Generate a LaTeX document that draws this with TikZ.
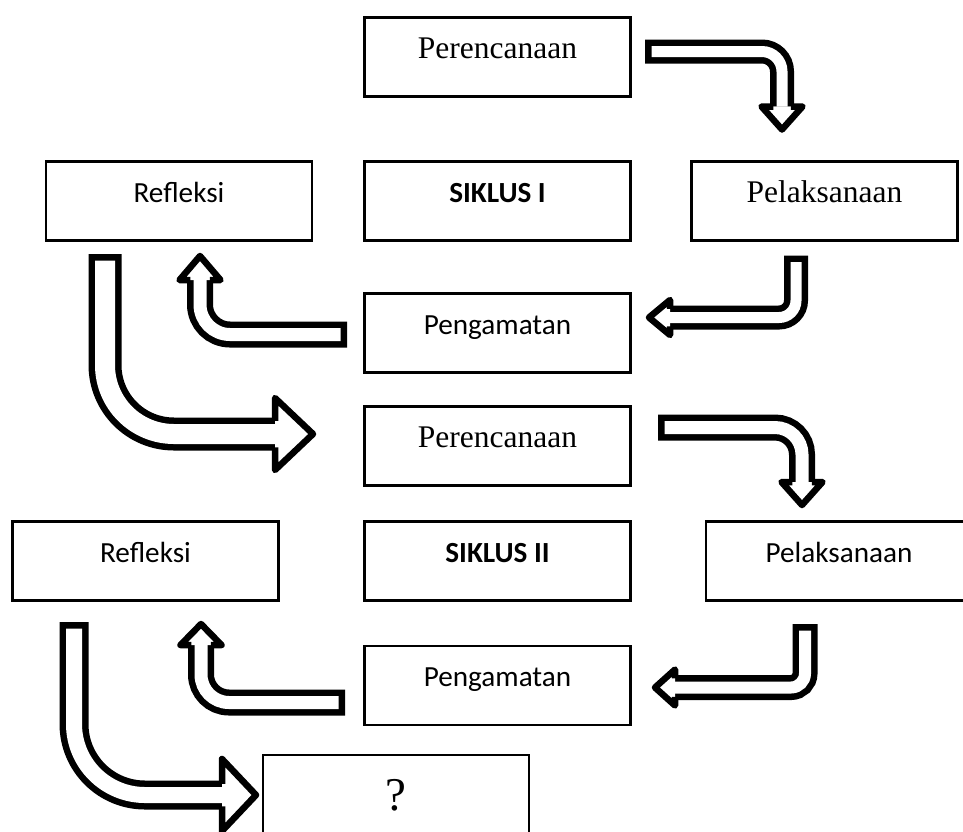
\documentclass[tikz,border=0pt]{standalone}
\usepackage{fontspec}
\setmainfont{Liberation Serif}
\newfontfamily\calibri{Carlito}
% #1 tail, #2 -| or |-, #3 head base, #4 direction,
% #5 shaft width, #6 bend radius, #7 half head, #8 head length
\newcommand\BentArrow[8]{%
    \draw[line width=#5pt+13pt, rounded corners=#6pt] #1 #2 #3;
    \draw[line width=#5pt, white, rounded corners=#6pt, shorten <=6.5pt] #1 #2 #3;
    \begin{scope}[shift={#3}, rotate=#4]
        \fill[white] (0,-#7) -- (#8,0) -- (0,#7) -- cycle;
        \draw[line width=6.5pt, line join=round] (0,-#5/2-3.25) -- (0,-#7) -- (#8,0) -- (0,#7) -- (0,#5/2+3.25);
    \end{scope}
}

\begin{document}
\begin{tikzpicture}[x=1pt, y=-1pt,
    box/.style={draw, line width=2.4pt, minimum width=266pt, minimum height=79pt,
        outer sep=0pt, text height=21pt, text depth=19pt},
    serif/.style={font=\fontsize{31.5}{36}\selectfont},
    sans/.style={font=\calibri\fontsize{29.2}{34}\selectfont}]
    \useasboundingbox[fill=white] (0,0) rectangle (963,831);

    % first cycle
    \node[box, serif] (Plan1) at (497.5,57) {Perencanaan};
    \node[box, sans] (Reflect1) at (179,201) {Refleksi};
    \node[box, sans] (Cycle1) at (497.5,201) {\bfseries SIKLUS I};
    \node[box, serif] (Act1) at (824.5,201) {Pelaksanaan};
    \node[box, sans] (Observe1) at (497.5,333) {Pengamatan};

    % second cycle
    \node[box, serif] (Plan2) at (497.5,446) {Perencanaan};
    \node[box, sans] (Reflect2) at (145.5,561) {Refleksi};
    \node[box, sans] (Cycle2) at (497.5,561) {\bfseries SIKLUS II};
    \node[box, sans] (Act2) at (839,561) {Pelaksanaan};
    \node[box, sans] (Observe2) at (497.5,685.5) {Pengamatan};
    \node[box, serif, font=\fontsize{47}{52}\selectfont, text height=34pt, text depth=3pt]
        (Next) at (396,794.5) {?};

    \coordinate (PlanOut1) at ([xshift=14.5pt,yshift=5.5pt]Plan1.east);
    \coordinate (ActIn1) at ([xshift=-42.5pt,yshift=55pt]Act1.north);
    \coordinate (ActOut1) at ([xshift=-28.5pt,yshift=-15pt]Act1.south);
    \coordinate (ObserveIn1) at ([xshift=39.5pt,yshift=15.5pt]Observe1.east);
    \coordinate (ObserveOut1) at ([xshift=-17.5pt,yshift=-1.5pt]Observe1.west);
    \coordinate (ReflectIn1) at ([xshift=21pt,yshift=-39.5pt]Reflect1.south);
    \coordinate (ReflectOut1) at ([xshift=-74pt,yshift=-13.5pt]Reflect1.south);
    \coordinate (PlanIn2) at ([xshift=-89.5pt,yshift=12pt]Plan2.west);
    \coordinate (PlanOut2) at ([xshift=27.5pt,yshift=18.5pt]Plan2.east);
    \coordinate (ActIn2) at ([xshift=-37pt,yshift=39.5pt]Act2.north);
    \coordinate (ActOut2) at ([xshift=-34pt,yshift=-23.5pt]Act2.south);
    \coordinate (ObserveIn2) at ([xshift=44.5pt,yshift=-2pt]Observe2.east);
    \coordinate (ObserveOut2) at ([xshift=-19.5pt,yshift=-17pt]Observe2.west);
    \coordinate (ReflectIn2) at ([xshift=55.5pt,yshift=-44.5pt]Reflect2.south);
    \coordinate (ReflectOut2) at ([xshift=-71.5pt,yshift=-21.5pt]Reflect2.south);
    \coordinate (NextIn) at ([xshift=-41pt,yshift=-0.5pt]Next.west);

    \BentArrow{(PlanOut1)}{-|}{(ActIn1)}{-90}{11}{20}{20.5}{23}
    \BentArrow{(ActOut1)}{|-}{(ObserveIn1)}{180}{11}{17}{17.5}{21}
    \BentArrow{(ObserveOut1)}{-|}{(ReflectIn1)}{90}{13}{30}{20.5}{24}
    \BentArrow{(ReflectOut1)}{|-}{(PlanIn2)}{0}{20}{69}{36}{38}
    \BentArrow{(PlanOut2)}{-|}{(ActIn2)}{-90}{13}{27}{20.5}{23}
    \BentArrow{(ActOut2)}{|-}{(ObserveIn2)}{180}{12}{14}{18}{20}
    \BentArrow{(ObserveOut2)}{-|}{(ReflectIn2)}{90}{13}{28}{20.5}{21}
    \BentArrow{(ReflectOut2)}{|-}{(NextIn)}{0}{16}{71}{36}{34}
\end{tikzpicture}
\end{document}
